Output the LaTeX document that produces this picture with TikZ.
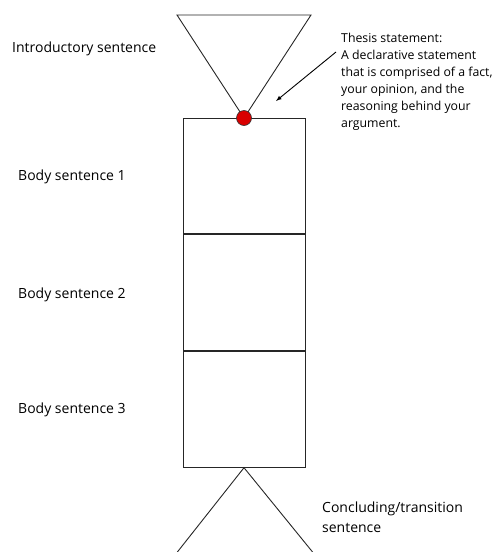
\documentclass[tikz,border=0pt]{standalone}
\usepackage{fontspec}
\setmainfont{Open Sans}
\begin{document}
\begin{tikzpicture}[x=1pt,y=-1pt,
  shp/.style={draw=black!85,line width=0.9pt},
  lbl/.style={anchor=west,inner sep=0pt,font=\fontsize{14}{17}\selectfont},
  note/.style={anchor=north west,inner sep=0pt,align=left,font=\fontsize{12.3}{17}\selectfont}]
\useasboundingbox (0,0) rectangle (498,552);
% top triangle
\coordinate (tl) at (177,15);
\coordinate (tr) at (311,15);
\coordinate (apex) at (244,118);
\draw[shp] (tl) -- (tr) -- (apex) -- cycle;
% box
\node[shp,minimum width=122pt,minimum height=115pt,inner sep=0pt,anchor=north] (b1) at (244,118) {};
\node[shp,minimum width=122pt,minimum height=116pt,inner sep=0pt,anchor=north] (b2) at (b1.south) {};
\node[shp,minimum width=122pt,minimum height=116pt,inner sep=0pt,anchor=north] (b3) at (b2.south) {};
% bottom triangle
\coordinate (bapex) at (b3.south);
\coordinate (bl) at (175,555);
\coordinate (br) at (315,555);
\draw[shp] (bl) -- (bapex) -- (br);
% red dot
\node[circle,draw=black!80,fill=red!85!black,line width=0.6pt,minimum size=15pt,inner sep=0pt] (dot) at (apex) {};
% labels
\node[lbl] (intro) at (12,49) {Introductory sentence};
\node[lbl] (s1) at (18,177) {Body sentence 1};
\node[lbl] (s2) at (18,295) {Body sentence 2};
\node[lbl] (s3) at (18,410) {Body sentence 3};
\node[lbl,align=left,anchor=north west,font=\fontsize{14}{20}\selectfont] (conc) at (322,502) {Concluding/transition\\sentence};
\node[note] (thesis) at (341,33) {Thesis statement:\\A declarative statement\\that is comprised of a fact,\\your opinion, and the\\reasoning behind your\\argument.};
\coordinate (arrstart) at (336,52);
\coordinate (arrend) at (276,101);
\draw[-latex,line width=0.9pt] (arrstart) -- (arrend);
\end{tikzpicture}
\end{document}
